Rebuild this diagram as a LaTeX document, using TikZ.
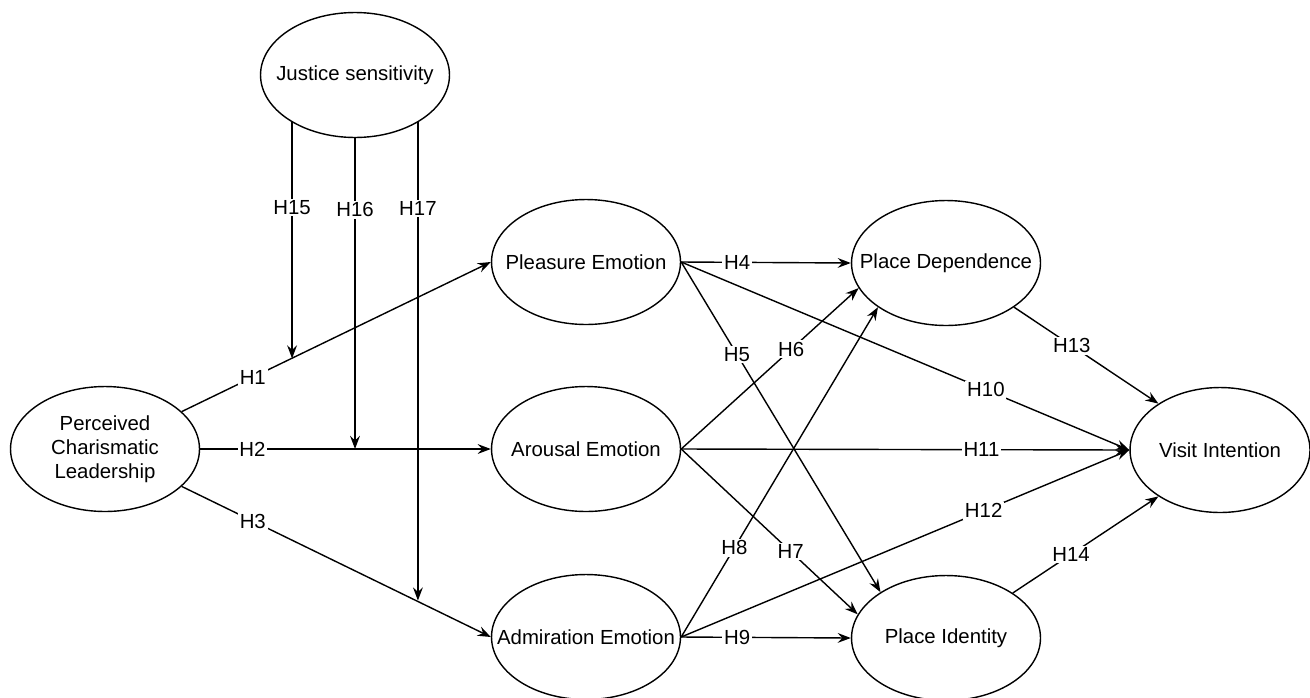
\documentclass[tikz,border=0pt]{standalone}
\usepackage{fontspec}
\setmainfont{Liberation Sans}
\usetikzlibrary{shapes.geometric,arrows.meta,calc}

\tikzset{
  latent/.style={ellipse,draw,minimum width=3.78cm,minimum height=2.5cm,
    inner xsep=-0.5cm,inner ysep=0pt,align=center},
  hyp/.style={fill=white,inner sep=1pt},
}

\begin{document}
\begin{tikzpicture}[x=0.02cm,y=-0.02cm,line width=0.8pt,
    font=\fontsize{11.6}{13.7}\selectfont,
    >={Stealth[length=7.5pt,width=5.6pt,inset=2.6pt]}]
  \useasboundingbox (0,0) rectangle (1310,697);
  \clip (0,0) rectangle (1310,697);

  \node[latent] (js)  at (355,75)  {Justice sensitivity};
  \node[latent] (pcl) at (105,449) {Perceived\\Charismatic\\Leadership};
  \node[latent] (ple) at (586,262) {Pleasure Emotion};
  \node[latent] (aro) at (586,449) {Arousal Emotion};
  \node[latent] (adm) at (586,637) {Admiration Emotion};
  \node[latent] (pd)  at (946,263) {Place Dependence};
  \node[latent] (pi)  at (946,638) {Place Identity};
  \node[latent,minimum width=3.6cm] (vi) at (1220,450) {Visit Intention};

  \path[->]
    (pcl.26)   edge node[hyp,pos=0.23] {H1} (ple.west)
    (pcl.east) edge node[hyp,pos=0.18] {H2} (aro.west)
    (pcl.-26)  edge node[hyp,pos=0.23] {H3} (adm.west)
    (ple.east) edge node[hyp,pos=0.33] {H4} (pd.west)
               edge node[hyp,pos=0.28] {H5} (pi.145)
               edge node[hyp,pos=0.68] {H10} (vi.west)
    (aro.east) edge node[hyp,pos=0.62] {H6} (pd.196)
               edge node[hyp,pos=0.62] {H7} (pi.165)
               edge node[hyp,pos=0.67] {H11} (vi.west)
    (adm.east) edge node[hyp,pos=0.27] {H8} (pd.213)
               edge node[hyp,pos=0.33] {H9} (pi.west)
               edge node[hyp,pos=0.675] {H12} (vi.west)
    (pd.-33)   edge node[hyp,pos=0.4] {H13} (vi.143)
    (pi.34)    edge node[hyp,pos=0.4] {H14} (vi.217);

  % moderating paths end on the H1, H2, H3 lines
  \coordinate (m15) at ($(pcl.26)!0.355!(ple.west)$);
  \coordinate (m16) at ($(pcl.east)!0.527!(aro.west)$);
  \coordinate (m17) at ($(pcl.-26)!0.758!(adm.west)$);
  \path[->]
    (js.217)   edge node[hyp,pos=0.36] {H15} (js.217 |- m15)
    (js.south) edge node[hyp,pos=0.23] {H16} (js.south |- m16)
    (js.323)   edge node[hyp,pos=0.18] {H17} (js.323 |- m17);
\end{tikzpicture}
\end{document}
